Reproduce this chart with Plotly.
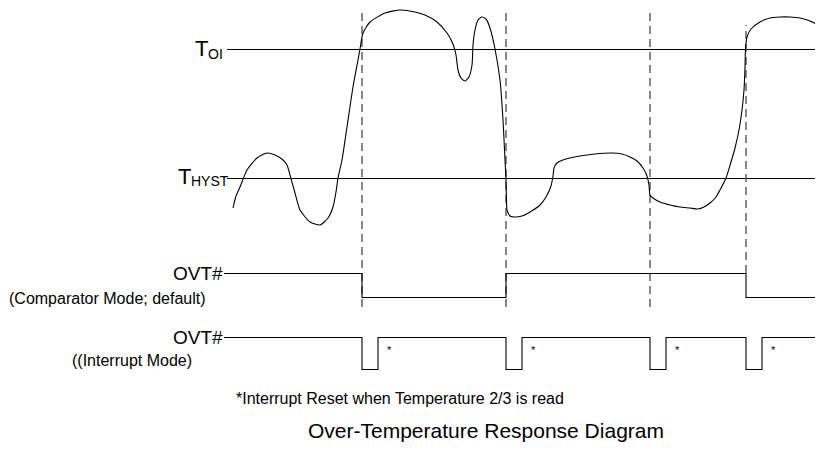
import plotly.graph_objects as go

# ---------------- data ----------------
# time axis (arbitrary units), diagram level axis (arbitrary units, upward)
temp_time = [233, 236, 240, 247, 257, 267, 275, 283, 287, 290, 295, 300, 310, 320, 328, 333, 336, 338,
             342, 347, 353, 358, 360, 363, 370, 385, 400, 415, 425, 437, 447, 453, 456, 458, 461, 465,
             469, 472, 473, 475, 478, 482, 486, 490, 495, 500, 503, 505, 506, 506.5, 507, 510, 514, 522,
             530, 540, 546, 551, 553, 554, 557, 563, 580, 595, 612, 622, 630, 637, 643, 647, 649, 650,
             653, 660, 670, 680, 690, 698, 704, 710, 716, 720, 726, 731, 735, 739, 742, 744, 745, 745.5,
             747, 751, 760, 770, 780, 790, 800, 810, 818]
temp_value = [245, 257, 266, 283, 295, 300, 298, 293, 288, 278, 260, 243, 231, 228, 235, 246, 261, 275,
              293, 326, 366, 393, 404, 420, 431, 440, 443, 441, 438, 431, 420, 409, 398, 383, 375, 372,
              376, 388, 408, 423, 433, 436, 434, 425, 404, 373, 333, 293, 273, 253, 243, 237, 236, 237,
              241, 248, 256, 267, 277, 285, 290, 293, 297, 299, 300, 299, 296, 292, 285, 277, 268, 258,
              255, 251, 248, 246, 245, 244, 246, 250, 256, 263, 275, 291, 305, 323, 343, 363, 386, 404,
              416, 424, 431, 435, 436, 436, 435, 432, 428]

T_OI = 403.5
T_HYST = 274.5

event_times = [362, 506, 650, 746]          # threshold crossings
read_times = [378, 522, 666, 762]           # interrupt reset (temperature read)

comp_edges = [224, 362, 506, 746, 823]
comp_states = [1, 0, 1, 0, 0]

int_edges = [224, 362, 378, 506, 522, 650, 666, 746, 762, 823]
int_states = [1, 0, 1, 0, 1, 0, 1, 0, 1, 1]

# ---------------- layout constants ----------------
W, H = 823, 453
PAGE_OFF = 8          # default body margin of the html page
COMP_HIGH, COMP_LOW = 179.5, 155.5
INT_HIGH, INT_LOW = 115.5, 83.5
LINE_START = 227
FONT = "Arial, Liberation Sans, Helvetica, sans-serif"

fig = go.Figure()

# threshold lines
for lvl in (T_OI, T_HYST):
    fig.add_trace(go.Scatter(x=[LINE_START, W], y=[lvl, lvl], mode="lines",
                             line=dict(color="black", width=1.1), hoverinfo="skip"))

# dashed event lines
dash_tops = [444, 444, 444, 428]
dash_bottoms = [146, 146, 146, 180]
for t, y0, y1 in zip(event_times, dash_bottoms, dash_tops):
    fig.add_trace(go.Scatter(x=[t, t], y=[y0, y1], mode="lines",
                             line=dict(color="#555555", width=1.4, dash="8px,5px"), hoverinfo="skip"))

# temperature curve
fig.add_trace(go.Scatter(x=temp_time, y=temp_value, mode="lines",
                         line=dict(color="black", width=1.1, shape="spline", smoothing=0.6),
                         hoverinfo="skip"))

# comparator output
fig.add_trace(go.Scatter(x=comp_edges,
                         y=[COMP_LOW + s * (COMP_HIGH - COMP_LOW) for s in comp_states],
                         mode="lines", line=dict(color="black", width=1.1, shape="hv"),
                         hoverinfo="skip"))

# interrupt output
fig.add_trace(go.Scatter(x=int_edges,
                         y=[INT_LOW + s * (INT_HIGH - INT_LOW) for s in int_states],
                         mode="lines", line=dict(color="black", width=1.1, shape="hv"),
                         hoverinfo="skip"))

ann = []
def txt(x, y, s, size, xanchor="left"):
    ann.append(dict(x=x, y=y, text=s, showarrow=False, xanchor=xanchor, yanchor="middle",
                    font=dict(family=FONT, size=size, color="black"), borderpad=0))

txt(194, 405, "T", 22)
txt(207, 399, "OI", 14)
txt(177, 277, "T", 22)
txt(190, 272, "HYST", 14)
txt(224, 179.5, "OVT#", 19, "right")
txt(8, 155, "(Comparator Mode; default)", 16)
txt(224, 115.5, "OVT#", 19, "right")
txt(193, 93, "((Interrupt Mode)", 16, "right")
for rt in read_times:
    txt(rt + 11, 103.5, "*", 11, "center")
txt(235, 55, "*Interrupt Reset when Temperature 2/3 is read", 16)
txt(307, 23, "Over-Temperature Response Diagram", 21)

fig.update_layout(
    width=W, height=H, margin=dict(l=0, r=0, t=0, b=0),
    paper_bgcolor="white", plot_bgcolor="white", showlegend=False,
    xaxis=dict(range=[PAGE_OFF, W + PAGE_OFF], visible=False, fixedrange=True),
    yaxis=dict(range=[-PAGE_OFF, H - PAGE_OFF], visible=False, fixedrange=True),
    annotations=ann,
)

fig.write_html("out.html")
